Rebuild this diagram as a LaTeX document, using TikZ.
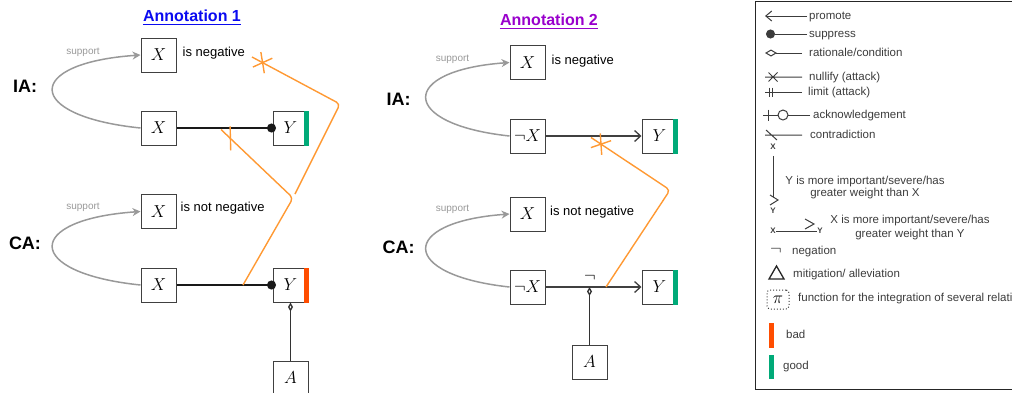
\documentclass[tikz,border=0pt]{standalone}
\usepackage{fontspec}
\setmainfont{Liberation Sans}
\usetikzlibrary{arrows.meta,decorations.markings}
\definecolor{attackc}{RGB}{255,153,51}
\definecolor{goodc}{RGB}{0,170,120}
\definecolor{badc}{RGB}{255,77,0}
\definecolor{titleb}{RGB}{10,10,240}
\definecolor{titlep}{RGB}{153,0,204}
\definecolor{supc}{RGB}{153,153,153}
\definecolor{legc}{RGB}{60,60,60}
\begin{document}
\begin{tikzpicture}[x=1pt,y=-1pt,
    box/.style={draw=black!75, line width=1pt, minimum width=35pt, minimum height=34pt, inner sep=0pt, font=\fontsize{18}{20}\selectfont},
    txt/.style={anchor=west, inner sep=0pt, text height=9.5pt, text depth=3pt, font=\fontsize{13}{15}\selectfont},
    suplabel/.style={inner sep=0pt, text=supc, font=\fontsize{10}{12}\selectfont},
    iclabel/.style={inner sep=0pt, font=\bfseries\fontsize{18}{20}\selectfont},
    anntitle/.style={inner sep=0pt, font=\bfseries\fontsize{16}{18}\selectfont},
    support/.style={draw=supc, line width=1.5pt, -{Stealth[length=8pt,width=8pt]}},
    suppress/.style={draw=black!90, line width=1.3pt, shorten >=-3.5pt, -{Circle[length=9pt]}},
    promote/.style={draw=black!75, line width=1.3pt, -{Straight Barb[length=6pt,width=11pt]}},
    rationale/.style={draw=black!80, line width=1.3pt, -{Diamond[open,length=9pt,width=5pt]}},
    attack/.style={draw=attackc, line width=1.4pt, rounded corners=4pt},
    nullmark/.style={postaction={decorate}, decoration={markings, mark=at position 12pt with {\draw[attackc, line width=1.4pt, sharp corners] (-6.5,-8.5) -- (6.5,8.5) (-6.5,8.5) -- (6.5,-8.5);}}},
    tickmark/.style={postaction={decorate}, decoration={markings, mark=at position 13pt with {\draw[attackc, line width=1.4pt, sharp corners] (-8.5,-8.5) -- (8.5,8.5);}}},
    leg/.style={anchor=west, inner sep=0pt, text height=8pt, text depth=2.5pt, text=legc, font=\fontsize{11.5}{13}\selectfont},
    legxy/.style={inner sep=0pt, text=legc, font=\bfseries\fontsize{8}{9}\selectfont},
    legline/.style={draw=legc, line width=1pt}]
\useasboundingbox (0,0) rectangle (1012,392);

% Annotation 1
\node[anntitle, text=titleb] (t1) at (192,16) {Annotation 1};
\draw[titleb, line width=1.4pt] ([yshift=-2.5pt]t1.south west) -- ([yshift=-2.5pt]t1.south east);

\node[box] (a1x) at (158.5,55) {$X$};
\node[txt] (a1neg) at (182.5,53) {is negative};
\node[suplabel] (a1s) at (83,52) {support};
\node[iclabel] (a1ia) at (25,86) {IA:};
\node[box] (a1ix) at (158.5,128) {$X$};
\node[box] (a1iy) at (290.5,128) {$Y$};
\fill[goodc] ([xshift=-5pt]a1iy.north east) rectangle ([xshift=0.5pt]a1iy.south east);

\node[box] (a1cxt) at (158.5,211.5) {$X$};
\node[txt] (a1cneg) at (180.5,208.5) {is not negative};
\node[suplabel] (a1cs) at (83,207) {support};
\node[iclabel] (a1ca) at (25,243) {CA:};
\node[box] (a1cx) at (158.5,285) {$X$};
\node[box] (a1cy) at (290.5,285) {$Y$};
\fill[badc] ([xshift=-5pt]a1cy.north east) rectangle ([xshift=0.5pt]a1cy.south east);
\node[box] (a1a) at (290.5,378) {$A$};

\draw[support] (a1ix.west) .. controls +(-117,-12) and +(-117,8) .. (a1x.west);
\draw[suppress] (a1ix) -- (a1iy);
\draw[support] (a1cx.west) .. controls +(-117,-12) and +(-117,8) .. (a1cxt.west);
\draw[suppress] (a1cx) -- (a1cy);
\draw[rationale] (a1a) -- (a1cy);

\coordinate (a1p1) at (243,285);
\coordinate (a1k1) at (293,198);
\coordinate (a1e1) at (221,129.5);
\coordinate (a1p2) at (295,194);
\coordinate (a1k2) at (340,104);
\coordinate (a1e2) at (252,57);
\draw[attack, tickmark] (a1e1) -- (a1k1) -- (a1p1);
\draw[attack, nullmark] (a1e2) -- (a1k2) -- (a1p2);

% Annotation 2
\node[anntitle, text=titlep] (t2) at (549,20) {Annotation 2};
\draw[titlep, line width=1.4pt] ([yshift=-2.5pt]t2.south west) -- ([yshift=-2.5pt]t2.south east);

\node[box] (a2x) at (527.5,62.5) {$X$};
\node[txt] (a2neg) at (551.5,61) {is negative};
\node[suplabel] (a2s) at (452.5,59) {support};
\node[iclabel] (a2ia) at (398.5,99) {IA:};
\node[box] (a2ix) at (527.5,136) {$\neg X$};
\node[box] (a2iy) at (659.5,136) {$Y$};
\fill[goodc] ([xshift=-5pt]a2iy.north east) rectangle ([xshift=0.5pt]a2iy.south east);

\node[box] (a2cxt) at (527.5,214) {$X$};
\node[txt] (a2cneg) at (550,212) {is not negative};
\node[suplabel] (a2cs) at (452.5,209) {support};
\node[iclabel] (a2ca) at (398.5,247) {CA:};
\node[box] (a2cx) at (527.5,287) {$\neg X$};
\node[box] (a2cy) at (659.5,287) {$Y$};
\fill[goodc] ([xshift=-5pt]a2cy.north east) rectangle ([xshift=0.5pt]a2cy.south east);
\node[box] (a2a) at (589.5,362) {$A$};
\node[inner sep=0pt, font=\fontsize{16}{16}\selectfont] (a2ng) at (590,278) {$\neg$};
\coordinate (a2j) at (589.5,287);

\draw[support] (a2ix.west) .. controls +(-111,-12) and +(-111,8) .. (a2x.west);
\draw[promote] (a2ix) -- (a2iy);
\draw[support] (a2cx.west) .. controls +(-111,-12) and +(-111,8) .. (a2cxt.west);
\draw[promote] (a2cx) -- (a2cy);
\draw[rationale] (a2a) -- (a2j);

\coordinate (a2e) at (591,137.5);
\coordinate (a2k) at (670,190);
\coordinate (a2p) at (606,287);
\draw[attack, nullmark] (a2e) -- (a2k) -- (a2p);

% legend
\draw[black!85, line width=1pt] (755,1) rectangle (1030,389);
\foreach \ly/\lx/\lt [count=\i] in {17/809/promote, 35/809/suppress, 54/809/{rationale/condition}, 78/809/nullify (attack), 93/808/limit (attack), 116/813/acknowledgement, 136/810/contradiction, 252/792/negation, 275/793/{mitigation/ alleviation}, 299/798/function for the integration of several relations, 336/786/bad, 367/783/good}
    \node[leg] (lt\i) at (\lx,\ly) {\lt};

\draw[legline, -{Straight Barb[length=6pt,width=10pt]}] ([shift={(-2pt,1pt)}]lt1.west) -- ++(-42,0);
\draw[legline, -{Circle[length=9pt]}] ([shift={(-2pt,1pt)}]lt2.west) -- ++(-41,0);
\draw[legline, -{Diamond[open,length=12pt,width=7pt]}] ([shift={(-7pt,1pt)}]lt3.west) -- ++(-37,0);
\draw[legline] ([shift={(-7pt,1pt)}]lt4.west) -- ++(-37,0) (768.5,72.5) -- (777.5,81.5) (768.5,81.5) -- (777.5,72.5);
\draw[legline] ([shift={(-6pt,1pt)}]lt5.west) -- ++(-37,0) (769,87.5) -- (769,96.5) (772.5,87.5) -- (772.5,96.5);
\draw[legline] ([shift={(-3pt,1pt)}]lt6.west) -- (788,115) (778,115) -- (763,115) (768,109.5) -- (768,120.5);
\draw[legline] (783,115) circle (5);
\draw[legline] ([shift={(-8pt,1pt)}]lt7.west) -- ++(-37,0) (766,130) -- (777,140);

\node[legxy] (lx1) at (773,147) {X};
\node[legxy] (ly1) at (773,211) {Y};
\draw[legline] ([yshift=-6pt]lx1.south) -- (773,197);
\draw[legline] (770,195) -- (778,200) -- (770,205);
\node[leg, anchor=center, align=center, text height=, text depth=, font=\fontsize{11.5}{12}\selectfont] (lw1) at (865,188) {Y is more important/severe/has\\greater weight than X};

\node[legxy] (lx2) at (773,231) {X};
\node[legxy] (ly2) at (820,231) {Y};
\draw[legline] (lx2) -- (ly2);
\draw[legline] (805,219) -- (814,224) -- (805,229);
\node[leg, anchor=center, align=center, text height=, text depth=, font=\fontsize{11.5}{14}\selectfont] (lw2) at (910,228) {X is more important/severe/has\\greater weight than Y};

\node[inner sep=0pt, text=black!85, font=\fontsize{17}{17}\selectfont] (lng) at (776,251) {$\neg$};
\draw[legline, line width=1.3pt, draw=black!85] (769,279) -- (784,279) -- (776.5,266) -- cycle;
\node[draw=legc, dotted, line width=1pt, rounded corners=3pt, minimum width=22pt, minimum height=19pt, inner sep=0pt, font=\fontsize{16}{16}\selectfont] (lpi) at (778,299.5) {$\pi$};
\fill[badc] (769,323) rectangle (774,348);
\fill[goodc] (769,355) rectangle (774,379);
\end{tikzpicture}
\end{document}
